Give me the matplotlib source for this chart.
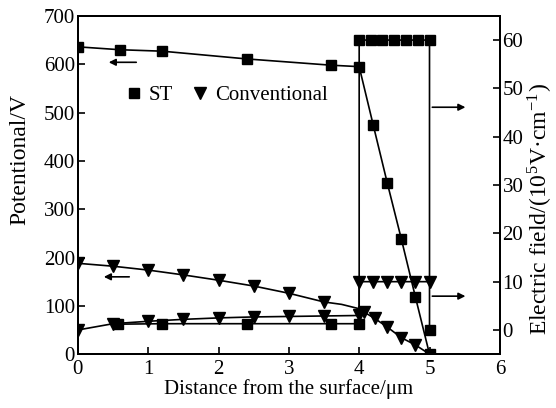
import matplotlib
matplotlib.use("Agg")
import matplotlib.pyplot as plt

plt.rcParams['font.family'] = ['Liberation Serif', 'DejaVu Serif']
plt.rcParams['mathtext.fontset'] = 'stix'

# ST: potential (left axis, V)
st_pot_x = [0, 0.6, 1.2, 2.4, 3.6, 4.0, 4.2, 4.4, 4.6, 4.8, 5.0]
st_pot_v = [636, 630, 627, 611, 598, 595, 474, 354, 238, 118, 0]

# Conventional: potential (left axis, V)
cv_pot_x = [0, 0.5, 1.0, 1.5, 2.0, 2.5, 3.0, 3.5, 3.75, 4.0, 4.07, 4.22, 4.4, 4.6, 4.8, 5.0]
cv_pot_v = [188, 182, 174, 164, 153, 141, 126, 108, 103, 94, 87, 74, 56, 34, 19, 0]
cv_pot_marks = [0, 1, 2, 3, 4, 5, 6, 7, 10, 11, 12, 13, 14]

# ST: electric field (right axis, 10^5 V/cm)
st_field_x = [0.57, 1.2, 2.4, 3.6, 4.0, 4.0, 4.17, 4.33, 4.5, 4.67, 4.83, 5.0, 5.0]
st_field_e = [1.2, 1.3, 1.3, 1.3, 1.3, 60, 60, 60, 60, 60, 60, 60, 0]

# Conventional: electric field (right axis)
cv_field_x = [0, 0.5, 1.0, 1.5, 2.0, 2.5, 3.0, 3.5, 4.0, 4.0, 4.2, 4.4, 4.6, 4.8, 5.0]
cv_field_e = [0, 1.3, 1.8, 2.2, 2.5, 2.7, 2.8, 2.9, 3.0, 10, 10, 10, 10, 10, 10]

fig = plt.figure(figsize=(5.56, 4.08), dpi=100)
ax = fig.add_axes([0.140, 0.132, 0.759, 0.829])
ax2 = ax.twinx()

lw = 1.2
ax.plot(st_pot_x, st_pot_v, 'k-', lw=lw, marker='s', ms=7.5)
ax.plot(cv_pot_x, cv_pot_v, 'k-', lw=lw, marker='v', ms=8.5, markevery=cv_pot_marks)
ax2.plot(st_field_x, st_field_e, 'k-', lw=lw, marker='s', ms=7.5)
ax2.plot(cv_field_x, cv_field_e, 'k-', lw=lw, marker='v', ms=8.5)

ax.set_xlim(0, 6)
ax.set_ylim(0, 700)
ax2.set_ylim(-5, 65)
ax.set_xticks(range(0, 7))
ax.set_yticks(range(0, 701, 100))
ax2.set_yticks(range(0, 61, 10))

for a in (ax, ax2):
    a.tick_params(direction='in', length=5, width=1.2, labelsize=15, pad=2)
    for s in a.spines.values():
        s.set_linewidth(1.4)
ax.tick_params(top=False)
ax.tick_params(axis='x', pad=4)

ax.set_xlabel('Distance from the surface/\u03bcm', fontsize=15, labelpad=0)
ax.set_ylabel('Potentional/V', fontsize=17, va='center')
ax2.set_ylabel('Electric field/(10$^{\\mathregular{5}}$V\u00b7cm$^{\\mathregular{-1}}$)',
               fontsize=17, va='center')
ax.yaxis.set_label_coords(-0.137, 0.574)
ax2.yaxis.set_label_coords(1.097, 0.43)

# arrows pointing to the axis each curve belongs to
arrow = dict(arrowstyle='-|>', color='k', lw=1.2, mutation_scale=10)
ax.annotate('', xy=(0.40, 604), xytext=(0.87, 604), arrowprops=arrow)
ax.annotate('', xy=(0.33, 160), xytext=(0.77, 160), arrowprops=arrow)
ax.annotate('', xy=(5.55, 511), xytext=(5.0, 511), arrowprops=arrow)
ax.annotate('', xy=(5.55, 120), xytext=(5.0, 120), arrowprops=arrow)

# legend
h1, = ax.plot([], [], 'ks', ms=7.5, ls='none')
h2, = ax.plot([], [], 'kv', ms=8.5, ls='none')
ax.legend([h1, h2], ['ST', 'Conventional'], ncol=2, frameon=False,
          fontsize=15, handlelength=0.8, handletextpad=0.3, columnspacing=0.9,
          loc='center left', bbox_to_anchor=(0.07, 0.765))

fig.savefig('out.png', dpi=100)
